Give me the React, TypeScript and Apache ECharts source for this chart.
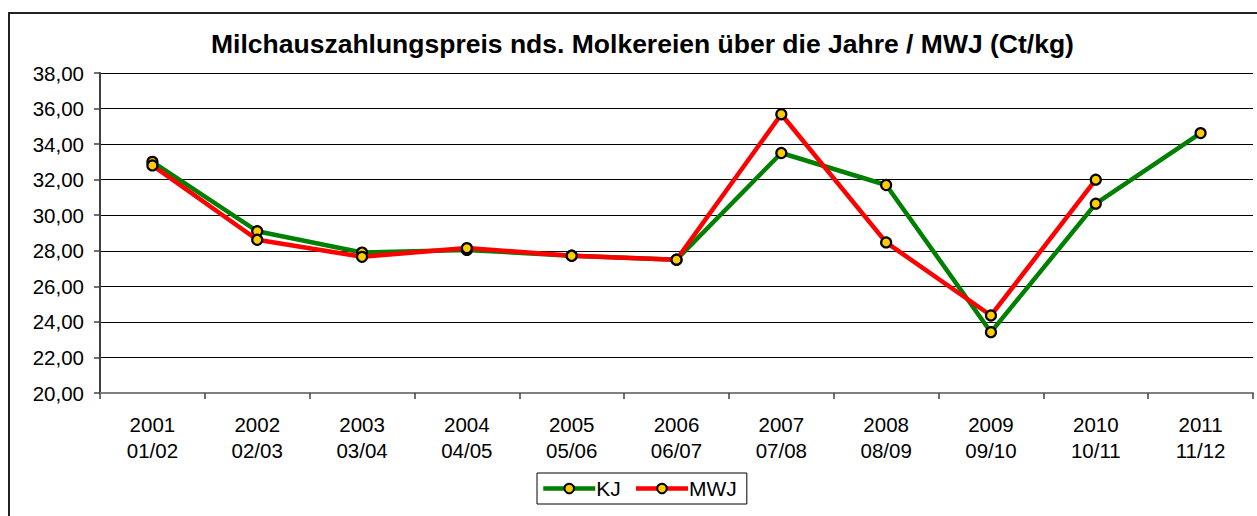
import React, { useEffect, useRef } from "react";
import * as echarts from "echarts";

const categories = [
  "2001\n01/02", "2002\n02/03", "2003\n03/04", "2004\n04/05", "2005\n05/06",
  "2006\n06/07", "2007\n07/08", "2008\n08/09", "2009\n09/10", "2010\n10/11", "2011\n11/12",
];
const kjValues = [33.0, 29.1, 27.9, 28.05, 27.72, 27.5, 33.5, 31.7, 23.42, 30.65, 34.62];
const mwjValues = [32.8, 28.62, 27.66, 28.15, 27.72, 27.5, 35.68, 28.47, 24.36, 32.0, null];
const titleText = "Milchauszahlungspreis nds. Molkereien über die Jahre / MWJ (Ct/kg)";
const yMin = 20;
const yMax = 38;
const yStep = 2;

const FONT = "'Liberation Sans', Arial, sans-serif";

export default function App() {
  const ref = useRef<HTMLDivElement>(null);
  useEffect(() => {
    if (!ref.current) return;
    const chart = echarts.init(ref.current, null, { renderer: "svg" });
    const symbolStyle = { color: "#FFCC00", borderColor: "#000", borderWidth: 2.2 };
    chart.setOption({
      animation: false,
      backgroundColor: "#fff",
      textStyle: { fontFamily: FONT },
      title: {
        text: titleText,
        left: 206,
        top: 25,
        textStyle: { fontFamily: FONT, fontSize: 26.5, fontWeight: "bold", color: "#000" },
      },
      graphic: [
        {
          type: "rect",
          shape: { x: 9, y: 13, width: 1400, height: 700 },
          style: { fill: "none", stroke: "#222", lineWidth: 2 },
          silent: true,
        },
      ],
      grid: { left: 100, top: 73, width: 1153, height: 320, containLabel: false },
      legend: {
        left: 537,
        top: 473,
        data: ["KJ", "MWJ"],
        itemWidth: 52,
        itemHeight: 12,
        itemGap: 13,
        padding: [5, 10, 5, 4],
        borderColor: "#000",
        borderWidth: 1,
        lineStyle: { width: 4.5 },
        textStyle: { fontFamily: FONT, fontSize: 21, color: "#000", padding: [0, 0, 0, -4] },
      },
      xAxis: {
        type: "category",
        data: categories,
        boundaryGap: true,
        axisLine: { lineStyle: { color: "#808080", width: 2 } },
        axisTick: { show: true, interval: 0, length: 6, lineStyle: { color: "#404040", width: 1.5 } },
        axisLabel: { interval: 0, fontFamily: FONT, fontSize: 20.5, color: "#000", lineHeight: 26, margin: 18 },
      },
      yAxis: {
        type: "value",
        min: yMin,
        max: yMax,
        interval: yStep,
        axisLine: { show: true, lineStyle: { color: "#404040", width: 2 } },
        axisTick: { show: true, length: 6, lineStyle: { color: "#404040", width: 1.5 } },
        splitLine: { lineStyle: { color: "#000", width: 1 } },
        axisLabel: {
          fontFamily: FONT,
          fontSize: 20.5,
          color: "#000",
          margin: 16,
          formatter: (v: number) => v.toFixed(2).replace(".", ","),
        },
      },
      series: [
        {
          name: "KJ",
          type: "line",
          data: kjValues,
          symbol: "circle",
          symbolSize: 10,
          lineStyle: { color: "#008000", width: 4.5 },
          itemStyle: symbolStyle,
          color: "#008000",
          z: 2,
        },
        {
          name: "MWJ",
          type: "line",
          data: mwjValues,
          symbol: "circle",
          symbolSize: 10,
          connectNulls: false,
          lineStyle: { color: "#FF0000", width: 4.5 },
          itemStyle: symbolStyle,
          color: "#FF0000",
          z: 3,
        },
      ],
    });
    return () => chart.dispose();
  }, []);
  return (
    <div
      ref={ref}
      style={{ position: "absolute", left: 0, top: 0, width: 1257, height: 516 }}
    />
  );
}
